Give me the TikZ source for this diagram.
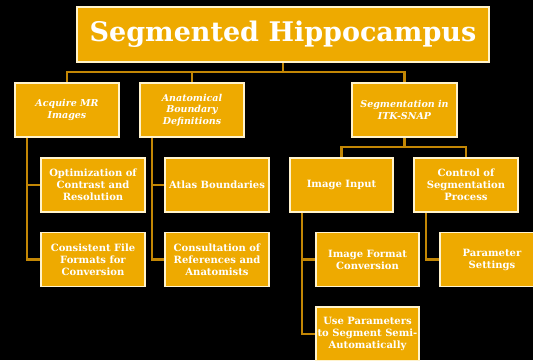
\documentclass[tikz,border=0pt]{standalone}
\usepackage{fontspec}
\setmainfont{DejaVu Serif}
\definecolor{boxfill}{RGB}{238,170,0}
\definecolor{boxline}{RGB}{255,243,205}
\definecolor{linkc}{RGB}{195,135,5}
\tikzset{
  box/.style={draw=boxline, fill=boxfill, line width=1.8pt, text=white, align=center,
    inner sep=1pt, font=\bfseries\fontsize{10}{12}\selectfont},
  topbox/.style={box, font=\bfseries\fontsize{27}{30}\selectfont},
  ibox/.style={box, font=\bfseries\itshape\fontsize{9.5}{11.5}\selectfont},
  link/.style={draw=linkc, line width=2.5pt},
}
\begin{document}
\begin{tikzpicture}[x=1pt,y=-1pt]
\fill[black] (0,0) rectangle (533,360);
\useasboundingbox (0,0) rectangle (533,360);
\coordinate (bus1) at (283,72);
\coordinate (bus2) at (404.5,147);
% nodes
\node[topbox, minimum width=412pt, minimum height=55pt] (top) at (283,34.5) {Segmented Hippocampus};
\node[ibox, minimum width=104pt, minimum height=54pt] (acq) at (67,110) {Acquire MR\\Images};
\node[ibox, minimum width=104pt, minimum height=54pt] (ana) at (192,110) {Anatomical\\Boundary\\Definitions};
\node[ibox, minimum width=105pt, minimum height=54pt] (seg) at (404.5,110) {Segmentation in\\ITK-SNAP};
\node[box, minimum width=104pt, minimum height=54pt] (opt) at (93,185) {Optimization of\\Contrast and\\Resolution};
\node[box, minimum width=104pt, minimum height=54pt] (cons) at (93,259.5) {Consistent File\\Formats for\\Conversion};
\node[box, minimum width=104pt, minimum height=54pt] (atl) at (217,185) {Atlas Boundaries};
\node[box, minimum width=104pt, minimum height=54pt] (cref) at (217,259.5) {Consultation of\\References and\\Anatomists};
\node[box, minimum width=103pt, minimum height=54pt] (inp) at (341.5,185) {Image Input};
\node[box, minimum width=104pt, minimum height=54pt] (ctl) at (466,185) {Control of\\Segmentation\\Process};
\node[box, minimum width=103pt, minimum height=54pt] (fmt) at (367.5,259.5) {Image Format\\Conversion};
\node[box, minimum width=103pt, minimum height=54pt] (use) at (367.5,334) {Use Parameters\\to Segment Semi-\\Automatically};
\node[box, minimum width=104pt, minimum height=54pt] (par) at (492,259.5) {Parameter\\Settings};
% links
\draw[link] (top.south) -- (bus1);
\draw[link] (bus1) -| (acq.north);
\draw[link] (bus1) -| (ana.north);
\draw[link] (bus1) -| (seg.north);
\draw[link] (seg.south) -- (bus2);
\draw[link] (bus2) -| (inp.north);
\draw[link] (bus2) -| (ctl.north);
\draw[link] (acq.south -| 27,0) |- (opt.west);
\draw[link] (acq.south -| 27,0) |- (cons.west);
\draw[link] (ana.south -| 152,0) |- (atl.west);
\draw[link] (ana.south -| 152,0) |- (cref.west);
\draw[link] (inp.south -| 302,0) |- (fmt.west);
\draw[link] (inp.south -| 302,0) |- (use.west);
\draw[link] (ctl.south -| 426,0) |- (par.west);
\end{tikzpicture}
\end{document}
